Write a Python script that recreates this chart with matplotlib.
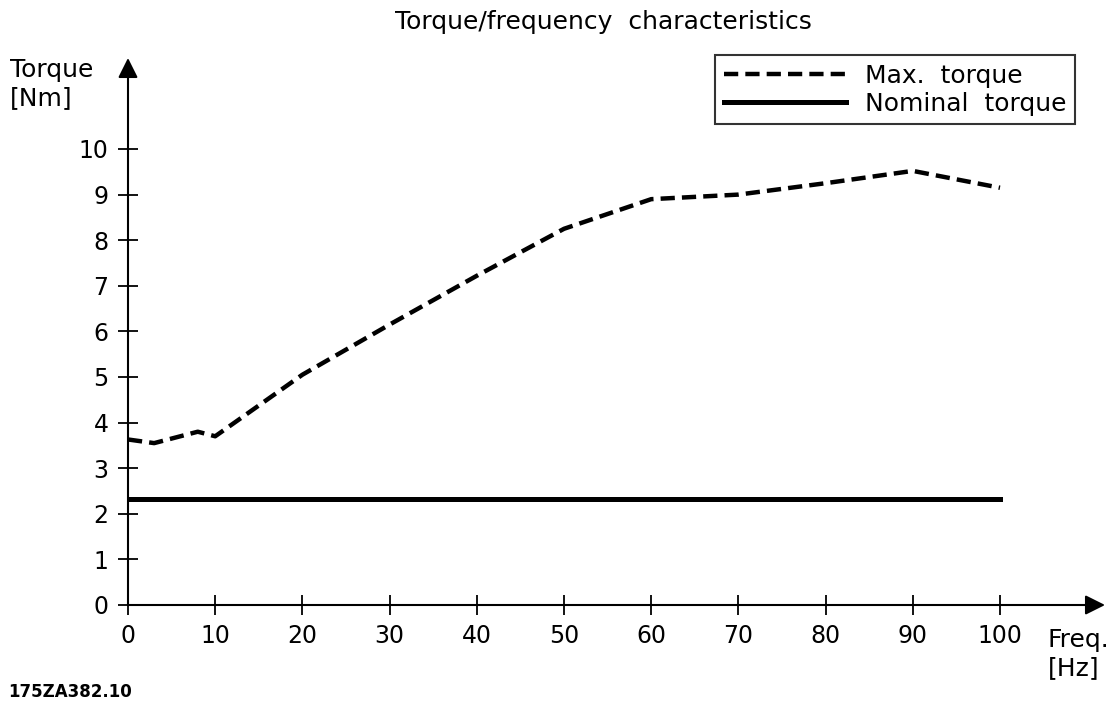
import matplotlib.pyplot as plt
import numpy as np

# data
freq_max = [0, 3, 8, 10, 20, 30, 40, 50, 60, 70, 80, 90, 100]
torque_max = [3.63, 3.55, 3.8, 3.7, 5.05, 6.15, 7.22, 8.25, 8.9, 9.0, 9.25, 9.52, 9.15]
freq_nom = [0, 100]
torque_nom = [2.33, 2.33]
xticks = [0, 10, 20, 30, 40, 50, 60, 70, 80, 90, 100]
yticks = [0, 1, 2, 3, 4, 5, 6, 7, 8, 9, 10]

plt.rcParams['font.family'] = ['DejaVu Sans']
fs = 18

fig = plt.figure(figsize=(11.15, 7.11), dpi=100)
W, H = 1115, 711
x0, y0 = 128, 605
x1, y1 = 1105, 58
ax = fig.add_axes([x0 / W, 1 - y0 / H, (x1 - x0) / W, (y0 - y1) / H])
xmax = (x1 - x0) / 8.72
ymax = (y0 - y1) / 45.6
ax.set_xlim(0, xmax)
ax.set_ylim(0, ymax)

ax.plot(freq_max, torque_max, color='black', lw=3.2, ls=(0, (3.2, 1.6)),
        label='Max.  torque', solid_capstyle='butt')
ax.plot(freq_nom, torque_nom, color='black', lw=3.6, label='Nominal  torque')

for s in ['top', 'right', 'left', 'bottom']:
    ax.spines[s].set_visible(False)

# axes with arrow heads
ax.annotate('', xy=(xmax, 0), xytext=(0, 0), annotation_clip=False,
            arrowprops=dict(arrowstyle='-|>', color='black', lw=1.5,
                            mutation_scale=30, shrinkA=0, shrinkB=0))
ax.annotate('', xy=(0, ymax), xytext=(0, 0), annotation_clip=False,
            arrowprops=dict(arrowstyle='-|>', color='black', lw=1.5,
                            mutation_scale=30, shrinkA=0, shrinkB=0))

ax.set_xticks(xticks)
ax.set_yticks(yticks)
ax.tick_params(direction='inout', length=14, width=1.3, labelsize=17, pad=7)

leg = ax.legend(loc='upper right', bbox_to_anchor=((1075 - x0) / (x1 - x0), (y0 - 55) / (y0 - y1)),
                borderaxespad=0, fontsize=fs, frameon=True, fancybox=False, edgecolor='black',
                handlelength=4.9, borderpad=0.35, labelspacing=0.15, handletextpad=0.75)
leg.get_frame().set_linewidth(1.5)

fig.text(603 / W, 1 - 22 / H, 'Torque/frequency  characteristics', ha='center', va='center', fontsize=fs)
fig.text(10 / W, 1 - 70 / H, 'Torque', ha='left', va='center', fontsize=fs)
fig.text(10 / W, 1 - 98 / H, '[Nm]', ha='left', va='center', fontsize=fs)
fig.text(1048 / W, 1 - 640 / H, 'Freq.', ha='left', va='center', fontsize=fs)
fig.text(1048 / W, 1 - 668 / H, '[Hz]', ha='left', va='center', fontsize=fs)
fig.text(8 / W, 1 - 692 / H, '175ZA382.10', ha='left', va='center', fontsize=12, fontweight='bold')

fig.savefig('out.png', dpi=100)
